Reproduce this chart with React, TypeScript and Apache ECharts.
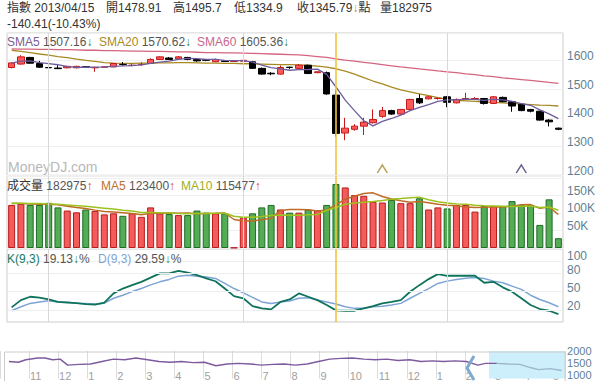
import React, { useEffect, useRef } from 'react';
import * as echarts from 'echarts';

const FONT = 'Arial, "Liberation Sans", "Noto Sans CJK TC", sans-serif';
const AXIS_C = '#5f7f94';

const dates = [
  '2013/02/25', '2013/02/26', '2013/02/27', '2013/02/28',
  '2013/03/01', '2013/03/04', '2013/03/05', '2013/03/06', '2013/03/07', '2013/03/08',
  '2013/03/11', '2013/03/12', '2013/03/13', '2013/03/14', '2013/03/15',
  '2013/03/18', '2013/03/19', '2013/03/20', '2013/03/21', '2013/03/22',
  '2013/03/25', '2013/03/26', '2013/03/27', '2013/03/28', '2013/03/29',
  '2013/04/01', '2013/04/02', '2013/04/03', '2013/04/04', '2013/04/05',
  '2013/04/08', '2013/04/09', '2013/04/10', '2013/04/11', '2013/04/12',
  '2013/04/15', '2013/04/16', '2013/04/17', '2013/04/18', '2013/04/19',
  '2013/04/22', '2013/04/23', '2013/04/24', '2013/04/25', '2013/04/26',
  '2013/04/29', '2013/04/30',
  '2013/05/01', '2013/05/02', '2013/05/03', '2013/05/06', '2013/05/07',
  '2013/05/08', '2013/05/09', '2013/05/10', '2013/05/13', '2013/05/14',
  '2013/05/15', '2013/05/16', '2013/05/17',
];

const opens = [
  1575, 1587, 1610, 1589, 1575, 1573, 1574, 1574, 1578, 1574,
  1576, 1577, 1586, 1582, 1585, 1589, 1603, 1608, 1605, 1610,
  1603, 1602, 1595, 1598, 1596, 1597, 1595, 1572, 1555, 1552,
  1576, 1572, 1583, 1557, 1557, 1478.91, 1347, 1360, 1371, 1383,
  1405, 1425, 1413, 1429, 1467, 1466, 1467, 1473, 1452, 1466,
  1466, 1467, 1450, 1471, 1456, 1447, 1429, 1423, 1392, 1364,
];
const closes = [
  1591, 1612, 1590, 1576, 1574, 1571, 1579, 1579, 1576, 1575,
  1577, 1589, 1585, 1583, 1586, 1603, 1612, 1603, 1612, 1603,
  1598, 1600, 1603, 1596, 1596, 1600, 1572, 1552, 1553, 1575,
  1575, 1583, 1554, 1560, 1483, 1345.79, 1364, 1371, 1385, 1394,
  1425, 1413, 1429, 1464, 1452, 1473, 1468, 1454, 1464, 1467,
  1467, 1450, 1473, 1456, 1441, 1425, 1423, 1392, 1386, 1360,
];
const lows = [
  1572, 1585, 1588, 1574, 1568, 1570, 1572, 1572, 1574, 1560,
  1575, 1576, 1581, 1579, 1581, 1588, 1601, 1601, 1603, 1600,
  1595, 1597, 1594, 1594, 1596, 1595, 1570, 1550, 1548, 1550,
  1570, 1570, 1552, 1555, 1480, 1334.9, 1322, 1355, 1340, 1380,
  1400, 1410, 1411, 1428, 1448, 1464, 1463, 1437, 1450, 1462,
  1462, 1446, 1448, 1454, 1421, 1423, 1419, 1390, 1370, 1357,
];
const highs = [
  1593, 1618, 1612, 1598, 1583, 1583, 1581, 1581, 1580, 1578,
  1579, 1590, 1594, 1589, 1593, 1607, 1614, 1611, 1615, 1612,
  1607, 1604, 1606, 1600, 1596, 1604, 1598, 1575, 1559, 1582,
  1578, 1587, 1585, 1562, 1561, 1495.7, 1400, 1378, 1400, 1429,
  1438, 1428, 1431, 1466, 1482, 1476, 1470, 1476, 1467, 1487,
  1472, 1469, 1476, 1474, 1459, 1450, 1431, 1425, 1395, 1366,
];

const sma5 = [
  1590, 1597, 1598, 1592, 1588.6, 1584.6, 1578, 1575.8, 1575.8, 1576,
  1577.2, 1579.2, 1580.4, 1581.8, 1584, 1589.2, 1593.8, 1597.4, 1603.2, 1606.6,
  1605.6, 1603.2, 1603.2, 1600, 1598.6, 1599, 1593.4, 1583.2, 1574.6, 1570.4,
  1565.4, 1567.6, 1568, 1569.4, 1551, 1507.16, 1461.4, 1424.8, 1389.8, 1372,
  1387.8, 1397.6, 1409.2, 1425, 1436.6, 1446.2, 1457.2, 1462.2, 1462.2, 1465.2,
  1464, 1460.4, 1464.2, 1462.6, 1457.4, 1449, 1443.6, 1427.4, 1413.4, 1397.2,
];
const sma20 = [
  1635, 1631, 1627, 1622, 1618, 1613, 1609, 1604, 1600, 1596,
  1592, 1590, 1589, 1589, 1590, 1590, 1591, 1591, 1592, 1592,
  1591, 1590, 1590, 1589, 1589, 1588, 1588, 1587, 1586, 1585,
  1585, 1584, 1582, 1580, 1576, 1570.62, 1562, 1552, 1540, 1528,
  1518, 1507, 1497, 1490, 1483, 1477, 1470, 1464, 1461, 1459,
  1457, 1455, 1454, 1452, 1450, 1448, 1446, 1444, 1443, 1441,
];
const sma60 = [
  1640, 1639, 1639, 1638, 1638, 1637, 1637, 1636, 1635, 1635,
  1634, 1634, 1633, 1632, 1632, 1631, 1631, 1630, 1629, 1629,
  1628, 1627, 1627, 1626, 1626, 1625, 1624, 1623, 1622, 1621,
  1620, 1619, 1616, 1613, 1610, 1605.36, 1601, 1597, 1593, 1589,
  1585, 1581, 1577, 1574, 1570, 1567, 1563, 1560, 1557, 1553,
  1550, 1546, 1543, 1539, 1536, 1533, 1530, 1527, 1523, 1520,
];

// volume in thousands
const volumes = [
  123, 126, 123, 123, 129, 116, 107, 102, 110, 106,
  96, 99, 92, 99, 89, 116, 99, 97, 94, 94,
  107, 101, 99, 99, 1, 87, 99, 116, 123, 110,
  101, 101, 110, 108, 123, 182.975, 173, 151, 149, 132,
  130, 137, 128, 128, 142, 110, 116, 113, 123, 123,
  104, 120, 120, 120, 134, 123, 123, 66, 139, 28,
];
const volMa5 = [
  127, 127, 126, 125, 124.8, 123.4, 119.6, 115.4, 112.8, 108.2,
  104.2, 102.6, 100.6, 98.4, 95, 99, 99, 100, 99, 100,
  98.2, 98.6, 99, 100, 81.4, 77.4, 77, 80.4, 85.2, 107,
  109.8, 110.2, 109, 106, 108.6, 123.4, 139.4, 147.6, 155.8, 157.6,
  147, 139.8, 135.2, 131, 133, 129, 124.8, 121.8, 120.8, 117,
  115.8, 116.6, 118, 117.4, 119.6, 123.4, 124, 113.2, 117, 95.8,
];
const volMa10 = [
  128, 128, 127, 127, 126, 125, 123, 121, 119, 116.5,
  113.8, 111.1, 108, 105.6, 101.6, 101.6, 100.8, 100.3, 98.7, 97.5,
  98.6, 98.8, 99.5, 99.5, 90.7, 87.8, 87.8, 89.7, 92.6, 94.2,
  93.6, 93.6, 94.7, 95.6, 107.8, 115.477, 124.8, 128.3, 130.9, 133.1,
  136, 139.6, 141.4, 143.4, 145.3, 138, 132.3, 128.5, 125.9, 125,
  122.4, 120.7, 119.9, 119.1, 118.3, 119.6, 120.3, 115.6, 117.2, 107.7,
];

const kValues = [
  24, 36, 41.5, 40, 37, 33, 32, 31, 29.5, 28.5,
  32, 47, 55, 60.6, 66, 73, 80, 80, 84, 81,
  77, 71.6, 67, 55, 42.6, 39, 26, 22.4, 20.8, 33,
  37, 47, 41.5, 36, 27.9, 19.13, 18.5, 18.5, 22.4, 26,
  30.6, 33, 36, 49.7, 60.6, 70.5, 78.7, 76, 76, 76,
  76, 64.5, 66, 57, 49.7, 39, 28, 21.3, 18.5, 13,
];
const dValues = [
  18.5, 25, 30.6, 33, 35, 33, 33, 31, 30.6, 29.5,
  31, 39, 44, 50, 55, 61, 66, 70, 75.4, 77,
  75.4, 74, 71.6, 63.4, 55, 48, 40.5, 33, 30.6, 33,
  34.4, 39, 40, 36, 33, 29.59, 25, 22.4, 22.4, 25,
  26, 28, 30.6, 39, 47, 55, 63.4, 67.2, 70, 72,
  73.3, 71.6, 67.2, 64.4, 59, 53.6, 44, 37, 31.6, 25,
];

const monthGridDates = ['2013/03/01', '2013/04/01', '2013/05/01'];
const monthLabelDates = ['2013/02/25', '2013/03/01', '2013/04/01', '2013/05/01'];
const monthLabelTexts = ['2', '3', '4', '5'];
const priceMonthLabelDates = ['2013/04/01', '2013/05/01'];
const priceMonthLabelTexts = ['4', '5'];
const bottomLabelDates = ['2013/02/25', '2013/04/01', '2013/05/01'];
const bottomLabelTexts = ['2013/02/25', '04', '05'];
const crosshairDate = '2013/04/15';
const eventDates = ['2013/04/22', '2013/05/13'];
const eventLevel = 1222;
const kdGridValues = [20, 50, 80, 100];

// navigator: months since 2011/11 and price
const navMonths = [
  -0.69, -0.37, -0.11, 0.29, 0.55, 0.81, 1.07, 1.33, 1.72, 2.12,
  2.51, 2.9, 3.29, 3.68, 4.08, 4.47, 4.86, 5.25, 5.64, 6.04,
  6.43, 6.82, 7.21, 7.61, 8.0, 8.39, 8.78, 9.17, 9.57, 9.96,
  10.35, 10.74, 11.13, 11.53, 11.92, 12.31, 12.7, 13.1, 13.49, 13.88,
  14.27, 14.66, 15.05, 15.45, 15.71, 16.1, 16.49, 16.89, 17.28, 17.54,
  17.93, 18.33,
];
const navPrices = [
  1561, 1531, 1634, 1708, 1708, 1634, 1662, 1413, 1442, 1457,
  1561, 1662, 1634, 1708, 1634, 1561, 1531, 1561, 1516, 1531,
  1385, 1457, 1485, 1457, 1413, 1442, 1457, 1413, 1457, 1561,
  1662, 1693, 1708, 1662, 1634, 1662, 1604, 1634, 1561, 1589,
  1561, 1589, 1561, 1413, 1485, 1485, 1457, 1442, 1300, 1223,
  1266, 1190,
];
const navMonthLabels = ['11', '12', '1', '2', '3', '4', '5', '6', '7', '8', '9', '10', '11', '12', '1', '2', '3', '4', '5'];
const navTickLabels = [1000, 1500, 2000];
const navSelStart = 15.83;
const navEnd = 18.45;

function rich(x: number, y: number, parts: Array<[string, string]>, fontSize = 12) {
  const r: Record<string, any> = {};
  let text = '';
  parts.forEach(([t, c], i) => {
    r['p' + i] = { fill: c, fontSize, fontFamily: FONT };
    text += `{p${i}|${t}}`;
  });
  return {
    type: 'text', x, y, silent: true, z: 100,
    style: { text, rich: r, fontSize, fontFamily: FONT, verticalAlign: 'middle', fill: '#333' },
  };
}

const DOWN = '#2e7d3a';
const UP = '#e0303a';

function buildOption(): any {
  const hiddenCat = (gridIndex: number) => ({
    type: 'category', gridIndex, data: dates, boundaryGap: true,
    axisLine: { show: false }, axisTick: { show: false },
    axisLabel: { show: false }, splitLine: { show: false },
  });
  const vLineData = [
    ...monthGridDates.map((d) => ({ xAxis: d, lineStyle: { color: '#d8d8d8', width: 1, type: 'solid' } })),
    { xAxis: crosshairDate, lineStyle: { color: '#f2c53d', width: 1.6, type: 'solid' } },
  ];
  const markLine = (data: any[]) => ({
    silent: true, symbol: ['none', 'none'], label: { show: false }, data,
  });
  const labelSeries = (idx: number, yv: number, ds: string[], texts: string[], lab: any, itemLab?: (i: number) => any) => ({
    type: 'scatter', xAxisIndex: idx, yAxisIndex: idx, symbol: 'circle', symbolSize: 1,
    itemStyle: { opacity: 0 }, silent: true, clip: false,
    data: ds.map((d, i) => {
      const item: any = { value: [d, yv], name: texts[i] };
      if (itemLab) item.label = itemLab(i);
      return item;
    }),
    label: { show: true, formatter: '{b}', fontFamily: FONT, ...lab },
  });
  const yBase = {
    type: 'value', position: 'right',
    axisLine: { show: false }, axisTick: { show: false },
  };
  const labelStyle = { color: AXIS_C, fontSize: 12, fontFamily: FONT, margin: 4 };
  const monthLab = { position: [1, 1], color: '#a8a8a8', fontSize: 11, align: 'left', verticalAlign: 'bottom' };

  const candleData = dates.map((_, i) => [opens[i], closes[i], lows[i], highs[i]]);
  const volData = volumes.map((v, i) => ({
    value: v,
    itemStyle: closes[i] >= opens[i]
      ? { color: '#f45b5b', borderColor: '#b71c1c', borderWidth: 1 }
      : { color: '#54ac54', borderColor: '#1e6b26', borderWidth: 1 },
  }));
  const navPts = navMonths.map((m, i) => [m, navPrices[i]]);
  const splitAt = navMonths.findIndex((m) => m >= navSelStart);
  const navBefore = navPts.slice(0, splitAt + 1);
  const navAfter = navPts.slice(splitAt);

  return {
    animation: false,
    textStyle: { fontFamily: FONT },
    grid: [
      { left: 7, top: 33, width: 556, height: 142.3, show: true, borderColor: '#cccccc', borderWidth: 1 },
      { left: 7, top: 176, width: 556, height: 72, show: true, borderColor: '#cccccc', borderWidth: 1 },
      { left: 7, top: 249, width: 556, height: 73, show: true, borderColor: '#cccccc', borderWidth: 1 },
      { left: -3.2, top: 351, width: 568.3, height: 29.9, show: false },
    ],
    xAxis: [
      hiddenCat(0),
      hiddenCat(1),
      hiddenCat(2),
      {
        type: 'value', gridIndex: 3, position: 'top', min: -1, max: navEnd, interval: 1,
        axisLine: { show: false }, axisTick: { show: false },
        axisLabel: {
          inside: true, margin: 19, color: '#a0a0a0', fontSize: 11, fontFamily: FONT,
          align: 'left', padding: [0, 0, 0, 1], showMinLabel: false, showMaxLabel: false,
          formatter: (v: number) => (Number.isInteger(v) && v >= 0 && v < navMonthLabels.length ? navMonthLabels[v] : ''),
        },
        splitLine: { show: true, lineStyle: { color: '#dcdcdc' } },
      },
    ],
    yAxis: [
      {
        ...yBase, gridIndex: 0, min: 1200, max: 1695, interval: 100,
        axisLabel: { ...labelStyle, verticalAlign: 'bottom', lineHeight: 9, showMaxLabel: false, formatter: (v: number) => String(v) },
        splitLine: { lineStyle: { color: '#efefef' } },
      },
      {
        ...yBase, gridIndex: 1, min: 0, max: 205.7, interval: 50,
        axisLabel: {
          ...labelStyle, verticalAlign: 'bottom', lineHeight: 9, showMaxLabel: false,
          formatter: (v: number) => (v > 0 && v < 200 ? v + 'K' : ''),
        },
        splitLine: { lineStyle: { color: '#efefef' } },
      },
      {
        ...yBase, gridIndex: 2, min: 0, max: 120, interval: 10,
        axisLabel: {
          ...labelStyle, verticalAlign: 'bottom', lineHeight: 7, customValues: kdGridValues,
          formatter: (v: number) => (v === 100 ? '{t|100}' : kdGridValues.indexOf(v) >= 0 ? String(v) : ''),
          rich: { t: { fontSize: 12, fontFamily: FONT, color: AXIS_C, lineHeight: 9, padding: [0, 0, 1, 0] } },
        },
        splitLine: { show: false },
      },
      {
        ...yBase, gridIndex: 3, min: 850, max: 2000, interval: 50,
        axisLabel: {
          ...labelStyle, fontSize: 11, lineHeight: 12, margin: 2, customValues: navTickLabels,
          formatter: (v: number) => (navTickLabels.indexOf(v) >= 0 ? String(v) : ''),
        },
        splitLine: { show: false },
      },
    ],
    series: [
      {
        type: 'candlestick', xAxisIndex: 0, yAxisIndex: 0, data: candleData, barWidth: 7,
        itemStyle: { color: '#ff5858', color0: '#000', borderColor: '#c41a1a', borderColor0: '#000', borderWidth: 1 },
        markLine: markLine(vLineData), z: 3,
      },
      { type: 'line', xAxisIndex: 0, yAxisIndex: 0, data: sma5, symbol: 'none', lineStyle: { color: '#6d5c9c', width: 1.3 }, z: 4 },
      { type: 'line', xAxisIndex: 0, yAxisIndex: 0, data: sma20, symbol: 'none', lineStyle: { color: '#a88a22', width: 1.3 }, z: 2 },
      { type: 'line', xAxisIndex: 0, yAxisIndex: 0, data: sma60, symbol: 'none', lineStyle: { color: '#d4657f', width: 1.3 }, z: 2 },
      {
        type: 'scatter', xAxisIndex: 0, yAxisIndex: 0, silent: true, clip: false,
        symbol: 'path://M0,10L5,0L10,10', symbolSize: [10, 8],
        data: eventDates.map((d, i) => ({
          value: [d, eventLevel],
          itemStyle: { color: 'none', borderColor: i === 0 ? '#a6872e' : '#3f3f72', borderWidth: 1.4 },
        })),
      },
      labelSeries(0, 1200, priceMonthLabelDates, priceMonthLabelTexts, monthLab),
      {
        type: 'bar', xAxisIndex: 1, yAxisIndex: 1, data: volData, barWidth: 7, markLine: markLine(vLineData), z: 2,
      },
      { type: 'line', xAxisIndex: 1, yAxisIndex: 1, data: volMa5, symbol: 'none', lineStyle: { color: '#bf6a26', width: 1.5 }, z: 4 },
      { type: 'line', xAxisIndex: 1, yAxisIndex: 1, data: volMa10, symbol: 'none', lineStyle: { color: '#9cc21e', width: 1.5 }, z: 4 },
      labelSeries(1, 0, monthLabelDates, monthLabelTexts, monthLab),
      {
        type: 'line', xAxisIndex: 2, yAxisIndex: 2, data: kValues, symbol: 'none',
        lineStyle: { color: '#0f735c', width: 1.8 }, z: 4,
        markLine: markLine([
          ...kdGridValues.map((v) => ({ yAxis: v, lineStyle: { color: '#eeeeee', width: 1, type: 'solid' } })),
          ...vLineData,
        ]),
      },
      { type: 'line', xAxisIndex: 2, yAxisIndex: 2, data: dValues, symbol: 'none', lineStyle: { color: '#7ea4d6', width: 1.5 }, z: 3 },
      labelSeries(2, 0, monthLabelDates, monthLabelTexts, monthLab),
      labelSeries(2, 0, bottomLabelDates, bottomLabelTexts,
        { position: [0, 5], color: '#555', fontSize: 11, align: 'center', verticalAlign: 'top' },
        (i: number) => (i === 0 ? { align: 'left', position: [-5, 5] } : undefined)),
      {
        type: 'line', xAxisIndex: 3, yAxisIndex: 3, data: navBefore,
        symbol: 'none', silent: true, lineStyle: { width: 1.4, color: '#7d5a9e' }, z: 3,
      },
      {
        type: 'line', xAxisIndex: 3, yAxisIndex: 3, data: navAfter,
        symbol: 'none', silent: true, lineStyle: { width: 1.4, color: '#9db7cb' }, z: 3,
        markArea: { silent: true, itemStyle: { color: '#cdeffb' }, data: [[{ xAxis: navSelStart }, { xAxis: navEnd }]] },
      },
    ],
    graphic: [
      rich(7, 8, [['指數 2013/04/15', '#333']]),
      rich(106, 8, [['開1478.91', '#333']]),
      rich(173, 8, [['高1495.7', '#333']]),
      rich(234, 8, [['低1334.9', '#333']]),
      rich(297, 8, [['收1345.79', '#333'], ['↓', '#c8861e'], ['點', '#333']]),
      rich(380, 8, [['量182975', '#333']]),
      rich(7, 24, [['-140.41(-10.43%)', '#333']]),
      rich(7, 42, [['SMA5', '#7a5c93'], [' 1507.16', '#555'], ['↓', DOWN]]),
      rich(99, 42, [['SMA20', '#a88a1e'], [' 1570.62', '#555'], ['↓', DOWN]]),
      rich(197, 42, [['SMA60', '#c8668a'], [' 1605.36', '#555'], ['↓', DOWN]]),
      rich(7, 186, [['成交量', '#333'], [' 182975', '#555'], ['↑', UP]]),
      rich(101, 186, [['MA5', '#c0702c'], [' 123400', '#555'], ['↑', UP]]),
      rich(181, 186, [['MA10', '#9eae1c'], [' 115477', '#555'], ['↑', UP]]),
      rich(7, 259, [['K(9,3)', '#137a62'], [' 19.13', '#555'], ['↓', DOWN], ['%', '#555']]),
      rich(98, 259, [['D(9,3)', '#7ea4d6'], [' 29.59', '#555'], ['↓', DOWN], ['%', '#555']]),
      {
        type: 'text', x: 8, y: 167, silent: true, z: 1,
        style: { text: 'MoneyDJ.com', fontSize: 14, fontFamily: FONT, fill: '#b8b8b8', verticalAlign: 'middle' },
      },
      {
        type: 'rect', silent: true, z: 50,
        shape: { x: 4.5, y: 352, width: 560.6, height: 31 },
        style: { fill: 'none', stroke: '#cccccc', lineWidth: 1 },
      },
      {
        type: 'polyline', silent: true, z: 60,
        shape: { points: [[474, 356], [467, 368], [474, 380]] },
        style: { stroke: '#7ea9d0', lineWidth: 3, fill: 'none' },
      },
    ],
  };
}

export default function App() {
  const ref = useRef<HTMLDivElement>(null);
  useEffect(() => {
    document.body.style.margin = '0';
    const chart = echarts.init(ref.current as HTMLDivElement, null, { renderer: 'svg' });
    chart.setOption(buildOption());
    return () => chart.dispose();
  }, []);
  return <div ref={ref} style={{ width: 600, height: 381 }} />;
}
